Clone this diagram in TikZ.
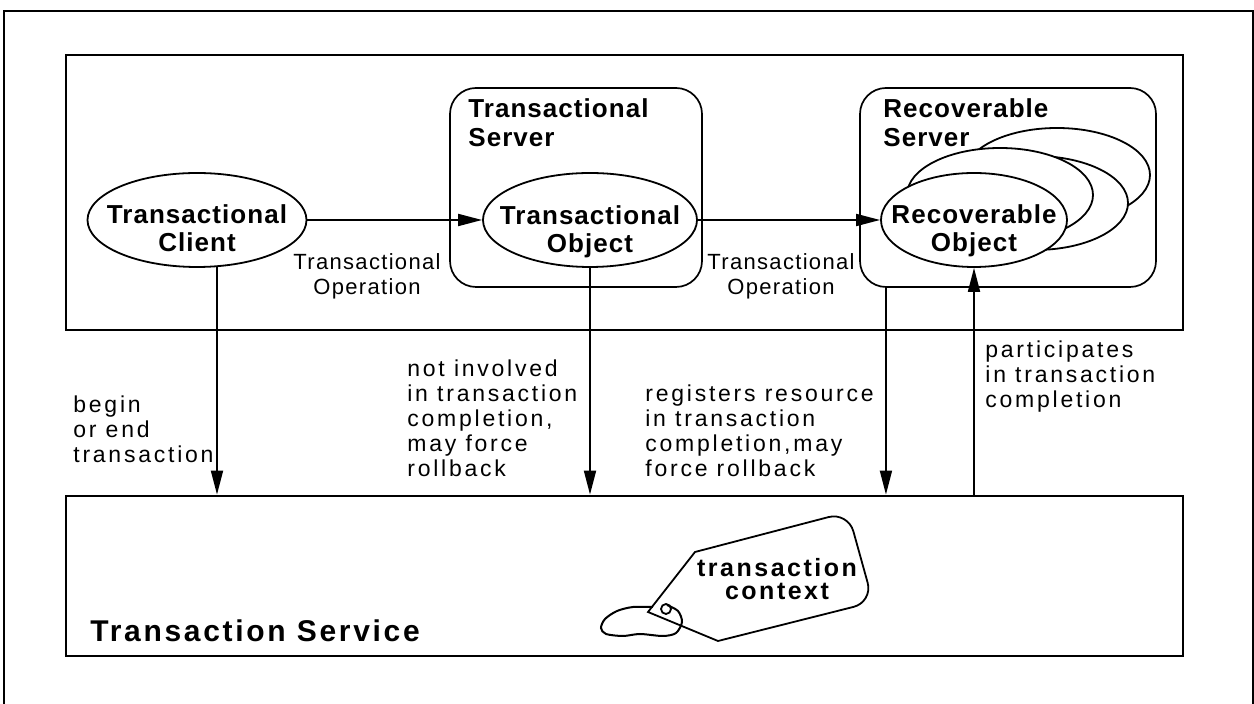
\documentclass[tikz,border=0pt]{standalone}
\usepackage{fontspec}
\setmainfont{Liberation Sans}
\newfontfamily\lblfont[LetterSpace=12]{Liberation Sans}
\newfontfamily\opfont[LetterSpace=6]{Liberation Sans}
\newfontfamily\objfont[LetterSpace=4]{Liberation Sans}
\newfontfamily\svcfont[LetterSpace=9]{Liberation Sans}
\newfontfamily\ctxfont[LetterSpace=10]{Liberation Sans}
\usetikzlibrary{
  arrows.meta,
  positioning,
  shapes.geometric,
  calc
}

\begin{document}
\begin{tikzpicture}[
  x=0.5pt, y=-0.5pt,
  panel/.style={draw, line width=1.4pt, minimum width=558.5pt, inner sep=0pt},
  server/.style={draw, line width=0.85pt, rounded corners=13pt, minimum height=99.5pt, inner sep=0pt},
  obj/.style={ellipse, draw, fill=white, line width=0.9pt, minimum height=47pt, inner sep=0pt},
  objtxt/.style={font=\objfont\bfseries\fontsize{13}{14}\selectfont, align=center, inner sep=0pt, anchor=base},
  srvtxt/.style={font=\objfont\bfseries\fontsize{13}{14.5}\selectfont, align=left, inner sep=0pt, anchor=base west},
  svctxt/.style={font=\svcfont\bfseries\fontsize{15}{16}\selectfont, inner sep=0pt, anchor=base west},
  ctxtxt/.style={font=\ctxfont\bfseries\fontsize{12.5}{11.5}\selectfont, align=center, inner sep=0pt, anchor=base},
  lbl/.style={font=\lblfont\fontsize{11.5}{12.5}\selectfont, align=left, inner sep=0pt, anchor=base west},
  oplbl/.style={font=\opfont\fontsize{11}{12.5}\selectfont, align=center, inner sep=0pt, anchor=base},
  arr/.style={-{Triangle[length=12pt,width=6pt]}, line width=0.9pt},
]
\useasboundingbox (0,0) rectangle (1254,704);
% outer frame, open at the bottom
\draw[line width=1.4pt] (4,704) -- (4,11) -- (1253,11) -- (1253,704);

\node[panel, minimum height=137.5pt] (apps) at (624.5,192.5) {};
\node[panel, minimum height=80pt] (svc) at (624.5,576) {};
\node[svctxt] (svc-t) at (90,642) {Transaction Service};

\node[server, minimum width=126pt] (tserver) at (576,187.5) {};
\node[server, minimum width=148pt] (rserver) at (1008,187.5) {};

\node[obj, minimum width=109.5pt] (client) at (197,220) {};
\node[objtxt] (client-t) at (197,252) {Transactional\\Client};
\node[obj, minimum width=107pt] (tobj) at (590,220) {};
\node[objtxt] (tobj-t) at (590,253) {Transactional\\Object};

% stacked recoverable objects
\node[obj, minimum width=93pt] (robj3) at (1057,175) {};
\node[obj, minimum width=93pt] (robj2) at (1035,203) {};
\node[obj, minimum width=93pt] (robj1) at (1000,195) {};
\node[obj, minimum width=93pt] (robj) at (974,220) {};
\node[objtxt] (robj-t) at (974,252) {Recoverable\\Object};

\node[srvtxt] (tserver-t) at (468,147) {Transactional\\Server};
\node[srvtxt] (rserver-t) at (883,147) {Recoverable\\Server};

\draw[arr] (client.east) -- (tobj.west);
\draw[arr] (tobj.east) -- (robj.west);
\draw[arr] (client.-67) -- (client.-67 |- svc.north);
\draw[arr] (tobj.south) -- (tobj.south |- svc.north);
\coordinate (reg) at ($(rserver.south west)!0.09!(rserver.south east)$);
\draw[arr] (reg) -- (reg |- svc.north);
\draw[arr] (robj.south |- svc.north) -- (robj.south);

\node[oplbl] (op1) at (367,295) {Transactional\\Operation};
\node[oplbl] (op2) at (781,295) {Transactional\\Operation};
\node[lbl] (begin) at (73,463) {begin\\or end\\transaction};
\node[lbl] (notinv) at (407,477) {not involved\\in transaction\\completion,\\may force\\rollback};
\node[lbl] (regres) at (645,477) {registers resource\\in transaction\\completion,may\\force rollback};
\node[lbl] (partic) at (985,408) {participates\\in transaction\\completion};

% the tag
\draw[line width=0.9pt, fill=white] (695,552) [rounded corners=10pt]-- (848,512) -- (873,602) [sharp corners]-- (718,641) -- (648,612) -- cycle;
\draw[line width=0.9pt] (666,609) circle[radius=2.5pt];
\draw[line width=1pt] plot[smooth] coordinates {(653,607) (633,607) (617,611) (605,619) (601,628) (606,634) (623,636) (640,634) (663,636) (676,633) (682,622) (678,611) (667,605)};
\node[ctxtxt] (ctx) at (777,600) {transaction\\context};

\end{tikzpicture}
\end{document}
